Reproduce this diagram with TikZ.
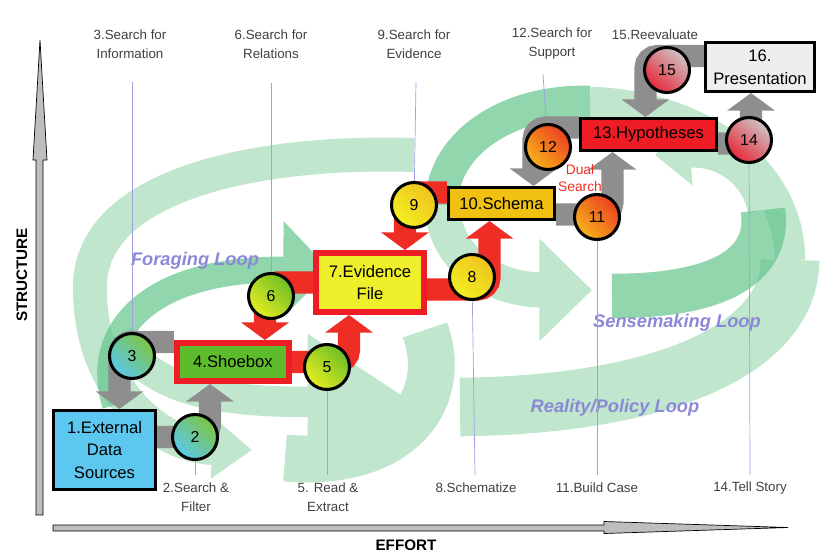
\documentclass[tikz,border=0pt]{standalone}
\usepackage{fontspec}
\setmainfont{Liberation Sans}
\usetikzlibrary{arrows.meta, calc}
\definecolor{flowgray}{RGB}{142,142,142}
\definecolor{flowred}{RGB}{238,46,36}
\definecolor{loopgreen}{RGB}{150,214,172}
\definecolor{loopdark}{RGB}{100,196,140}
\definecolor{looptext}{RGB}{140,136,216}
\definecolor{guideblue}{RGB}{160,160,224}
\definecolor{srcblue}{RGB}{92,200,240}
\definecolor{shoegreen}{RGB}{94,188,44}
\definecolor{boxred}{RGB}{238,28,36}
\definecolor{evyellow}{RGB}{238,238,42}
\definecolor{schemaorange}{RGB}{240,192,18}
\definecolor{presgray}{RGB}{238,238,238}
\definecolor{axisgray}{RGB}{190,190,190}
\definecolor{numcyan}{RGB}{92,200,236}
\definecolor{numgreen}{RGB}{124,196,66}
\definecolor{leafyellow}{RGB}{230,238,34}
\definecolor{leafgreen}{RGB}{108,190,36}
\definecolor{sunyellow}{RGB}{242,238,34}
\definecolor{sunorange}{RGB}{240,196,30}
\definecolor{amber}{RGB}{246,178,26}
\definecolor{ember}{RGB}{236,64,32}
\definecolor{rosegray}{RGB}{204,196,196}
\definecolor{rosered}{RGB}{232,40,58}
\pgfdeclarelayer{swirl}
\pgfdeclarelayer{flow}
\pgfsetlayers{swirl,flow,main}

\begin{document}
\begin{tikzpicture}[x=0.03cm, y=-0.03cm,
  boxtext/.style={font=\fontsize{14.2}{19.5}\selectfont, align=center, inner sep=0pt},
  databox/.style={boxtext, draw=black, line width=2.6pt},
  storebox/.style={boxtext, draw=boxred, line width=5.5pt},
  stepnum/.style={circle, draw=black, line width=2.6pt, minimum size=1.35cm, inner sep=0pt, font=\fontsize{13.5}{16}\selectfont},
  tealstep/.style={top color=numgreen, bottom color=numcyan, shading angle=-45},
  limestep/.style={top color=leafgreen, bottom color=leafyellow, shading angle=-45},
  yellowstep/.style={top color=sunorange, bottom color=sunyellow, shading angle=-45},
  orangestep/.style={top color=ember, bottom color=amber, shading angle=-45},
  rosestep/.style={top color=rosegray, bottom color=rosered, shading angle=-40},
  grayflow/.style={draw=flowgray, line width=18.8pt, rounded corners=10pt, -{Triangle[width=40pt,length=15pt]}},
  redflow/.style={grayflow, draw=flowred},
  guide/.style={draw=guideblue, line width=0.6pt},
  lbl/.style={font=\fontsize{11.4}{16.2}\selectfont, text=black!75, align=center, inner sep=0pt},
  looplbl/.style={font=\fontsize{15.6}{18}\selectfont\bfseries\itshape, text=looptext, inner sep=0pt},
  axislbl/.style={font=\fontsize{13}{15}\selectfont\bfseries, inner sep=0pt},
  axisbar/.style={fill=axisgray, draw=black, line width=0.6pt},
  lightband/.style={draw=loopgreen, line width=#1},
  darkband/.style={draw=loopdark, line width=#1}
]
  \useasboundingbox (0,0) rectangle (839,557);

  \node[databox, fill=srcblue, minimum width=3.06cm, minimum height=2.37cm] (src) at (104.5,450) {1.External\\Data\\Sources};
  \node[storebox, fill=shoegreen, minimum width=3.35cm, minimum height=1.125cm] (shoebox) at (233,362) {4.Shoebox};
  \node[storebox, fill=evyellow, minimum width=3.225cm, minimum height=1.755cm] (evfile) at (370,282.5) {7.Evidence\\File};
  \node[databox, fill=schemaorange, minimum width=3.18cm, minimum height=0.96cm] (schema) at (501.5,203.5) {10.Schema};
  \node[databox, fill=boxred, minimum width=4.08cm, minimum height=0.96cm] (hyp) at (648.5,134.5) {13.Hypotheses};
  \node[databox, fill=presgray, minimum width=3.27cm, minimum height=1.47cm] (pres) at (760,67) {16.\\Presentation};

  \node[stepnum, tealstep] (s2) at (195,437) {2};
  \node[stepnum, tealstep] (s3) at (132,356) {3};
  \node[stepnum, limestep] (s5) at (327,367) {5};
  \node[stepnum, limestep] (s6) at (271,296) {6};
  \node[stepnum, yellowstep] (s8) at (472,277) {8};
  \node[stepnum, yellowstep] (s9) at (414,205) {9};
  \node[stepnum, orangestep] (s11) at (597,217) {11};
  \node[stepnum, orangestep] (s12) at (548,147) {12};
  \node[stepnum, rosestep] (s14) at (749,140) {14};
  \node[stepnum, rosestep] (s15) at (667,70) {15};

  \node[font=\fontsize{11.8}{14.5}\selectfont, text=flowred, align=center, inner sep=0pt] (dual) at (580,178) {Dual\\Search};

  \node[lbl] (lbl3) at (130,44) {3.Search for\\Information};
  \node[lbl] (lbl6) at (271,44) {6.Search for\\Relations};
  \node[lbl] (lbl9) at (414,44) {9.Search for\\Evidence};
  \node[lbl] (lbl12) at (552,44) {12.Search for\\Support};
  \node[lbl] (lbl15) at (655,35) {15.Reevaluate};
  \node[lbl] (lbl2) at (196,497) {2.Search \&\\Filter};
  \node[lbl] (lbl5) at (328,497) {5. Read \&\\Extract};
  \node[lbl] (lbl8) at (476,488) {8.Schematize};
  \node[lbl] (lbl11) at (597,488) {11.Build Case};
  \node[lbl] (lbl14) at (750,488) {14.Tell Story};

  \coordinate (g3) at (132,82);
  \coordinate (g6) at (271,83);
  \coordinate (g9) at (416,82);
  \coordinate (g12) at (543,74);
  \coordinate (g2) at (195,475);
  \coordinate (g5) at (327,475);
  \coordinate (g8) at (475,475);
  \coordinate (g11) at (597,475);
  \coordinate (g14) at (750,475);

  \draw[axisbar] (36,515) -- (36,160) -- (33,160) -- (40,40) -- (47,160) -- (43,160) -- (43,515) -- cycle;
  \draw[axisbar] (53,525) -- (604,525) -- (604,521.5) -- (788,527.5) -- (604,533.5) -- (604,531) -- (53,531) -- cycle;
  \node[axislbl, rotate=90] (structure) at (22,275) {STRUCTURE};
  \node[axislbl] (effort) at (406,545) {EFFORT};

  \begin{pgfonlayer}{swirl}
    \begin{scope}[transparency group, opacity=.6]
      \draw[lightband=29pt, -{Triangle[width=50pt,length=34pt]}] (414,155) .. controls (255,150) and (92,185) .. (90,285) .. controls (88,380) and (150,445) .. (252,450);
      \draw[lightband=26pt, -{Triangle[width=110pt,length=90pt]}] (118,335) .. controls (150,395) and (230,402) .. (413,402);
      \draw[lightband=40pt] (285,458) .. controls (400,468) and (450,400) .. (425,330);
      \draw[lightband=50pt] (460,407) .. controls (660,405) and (790,350) .. (790,260);
      \draw[lightband=26pt] (790,260) .. controls (790,170) and (700,105) .. (590,102);
      \draw[lightband=30pt, -{Triangle[width=85pt,length=45pt]}] (442,205) .. controls (445,265) and (500,290) .. (592,290);
      \draw[lightband=26pt, -{Triangle[width=55pt,length=30pt]}] (763,210) .. controls (755,170) and (720,150) .. (655,155);
    \end{scope}
    \begin{scope}[transparency group, opacity=.7]
      \draw[darkband=22pt, -{Triangle[width=80pt,length=40pt]}] (115,405) .. controls (92,330) and (150,268) .. (330,270);
      \draw[darkband=28pt] (590,102) .. controls (500,100) and (440,150) .. (442,205);
      \draw[darkband=38pt] (612,296) .. controls (730,296) and (770,260) .. (763,210);
    \end{scope}
    \node[looplbl] (forage) at (195,261) {Foraging Loop};
    \node[looplbl] (sense) at (677,323) {Sensemaking Loop};
    \node[looplbl] (reality) at (615,408) {Reality/Policy Loop};
  \end{pgfonlayer}

  \begin{pgfonlayer}{flow}
    \draw[guide] (g3) -- (s3);
    \draw[guide] (g6) -- (s6);
    \draw[guide] (g9) -- (s9);
    \draw[guide] (g12) -- (s12);
    \draw[guide] (s2) -- (g2);
    \draw[guide] (s5) -- (g5);
    \draw[guide] (s8) -- (g8);
    \draw[guide] (s11) -- (g11);
    \draw[guide] (s14) -- (g14);
    \draw[grayflow] (src.east |- s2) -| ($(shoebox.south)+(-23,0)$);
    \draw[grayflow] ($(shoebox.west)+(0,-20)$) -| ($(src.north)+(15,0)$);
    \draw[redflow] (shoebox.east) -| ($(evfile.south)+(-21,0)$);
    \draw[redflow] (evfile.west) -| ($(shoebox.north)+(32,0)$);
    \draw[redflow] ($(evfile.east)+(0,7)$) -| ($(schema.south)+(-12,0)$);
    \draw[redflow] ($(schema.west)+(0,-11)$) -| ($(evfile.north)+(35,0)$);
    \draw[grayflow] ($(schema.east)+(0,11)$) -| ($(hyp.south)+(-36,0)$);
    \draw[grayflow] ($(hyp.west)+(0,-7)$) -| ($(schema.north)+(32,0)$);
    \draw[grayflow] ($(hyp.east)+(0,9)$) -| ($(pres.south)+(-9,0)$);
    \draw[grayflow] ($(pres.west)+(0,-11)$) -| ($(hyp.north)+(-3,0)$);
  \end{pgfonlayer}
\end{tikzpicture}
\end{document}
